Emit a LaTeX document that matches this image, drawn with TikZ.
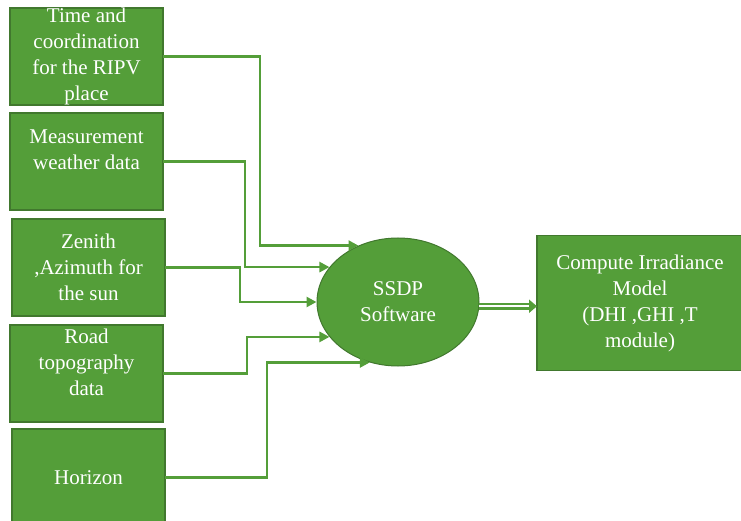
\documentclass[tikz,border=0pt]{standalone}
\usepackage{fontspec}
\setmainfont{Liberation Serif}
\usetikzlibrary{positioning,shapes.geometric,arrows.meta}

\definecolor{boxgreen}{HTML}{549E39}
\definecolor{boxedge}{HTML}{41782E}

\tikzset{
  inbox/.style={rectangle, fill=boxgreen, draw=boxedge, line width=1.2pt,
    minimum width=153pt, minimum height=97pt, inner sep=0pt, outer sep=0pt,
    align=center, text=white, font=\fontsize{21}{26}\selectfont},
  soft/.style={ellipse, fill=boxgreen, draw=boxedge, line width=1pt,
    minimum width=162pt, minimum height=128pt, inner sep=0pt, align=center,
    text=white, font=\fontsize{21}{26}\selectfont},
  link/.style={draw=boxgreen, line width=2.6pt, -{Triangle[length=10pt,width=10pt]}},
  dlink/.style={draw=boxgreen, line width=2.4pt, double=white, double distance=2.4pt,
    -{Triangle[length=8pt,width=13pt]}}
}

\begin{document}
\begin{tikzpicture}[x=1pt,y=-1pt]

  \useasboundingbox (0,0) rectangle (741,521);

  % Nodes

  \node[inbox] (time) at (86.5,56.5)
    {Time and\\ coordination\\ for the RIPV\\ place} ; %
  \node[inbox, below=8pt of time, text height=56pt, text depth=41pt] (weather)
    {Measurement\\ weather data} ; %
  \node[inbox, below=9pt of weather, xshift=2pt] (sun) {Zenith\\ ,Azimuth for\\ the sun} ; %
  \node[inbox, below=9pt of sun, xshift=-2pt, text height=70pt, text depth=27pt] (road)
    {Road\\ topography\\ data} ; %
  \node[inbox, below=7pt of road, xshift=2pt] (horizon) {Horizon} ; %

  \node[soft] (ssdp) at (398,302) {SSDP\\ Software} ; %
  \node[inbox, minimum width=206pt, minimum height=135pt] (model) at (640,303)
    {Compute Irradiance\\ Model\\ (DHI ,GHI ,T\\ module)} ; %

  % Edges

  \draw[link] (time.east) -- ++(97,0) |- (ssdp.125) ;
  \draw[link] (weather.east) -- ++(82,0) |- (ssdp.153) ;
  \draw[link] (sun.east) -- ++(75,0) |- (ssdp.west) ;
  \draw[link] (road.east) -- ++(84,0) |- (ssdp.207) ;
  \draw[link] (horizon.east) -- ++(102,0) |- (ssdp.245) ;

  \draw[dlink] (ssdp.-3) -- (ssdp.-3 -| model.west) ;

\end{tikzpicture}
\end{document}
